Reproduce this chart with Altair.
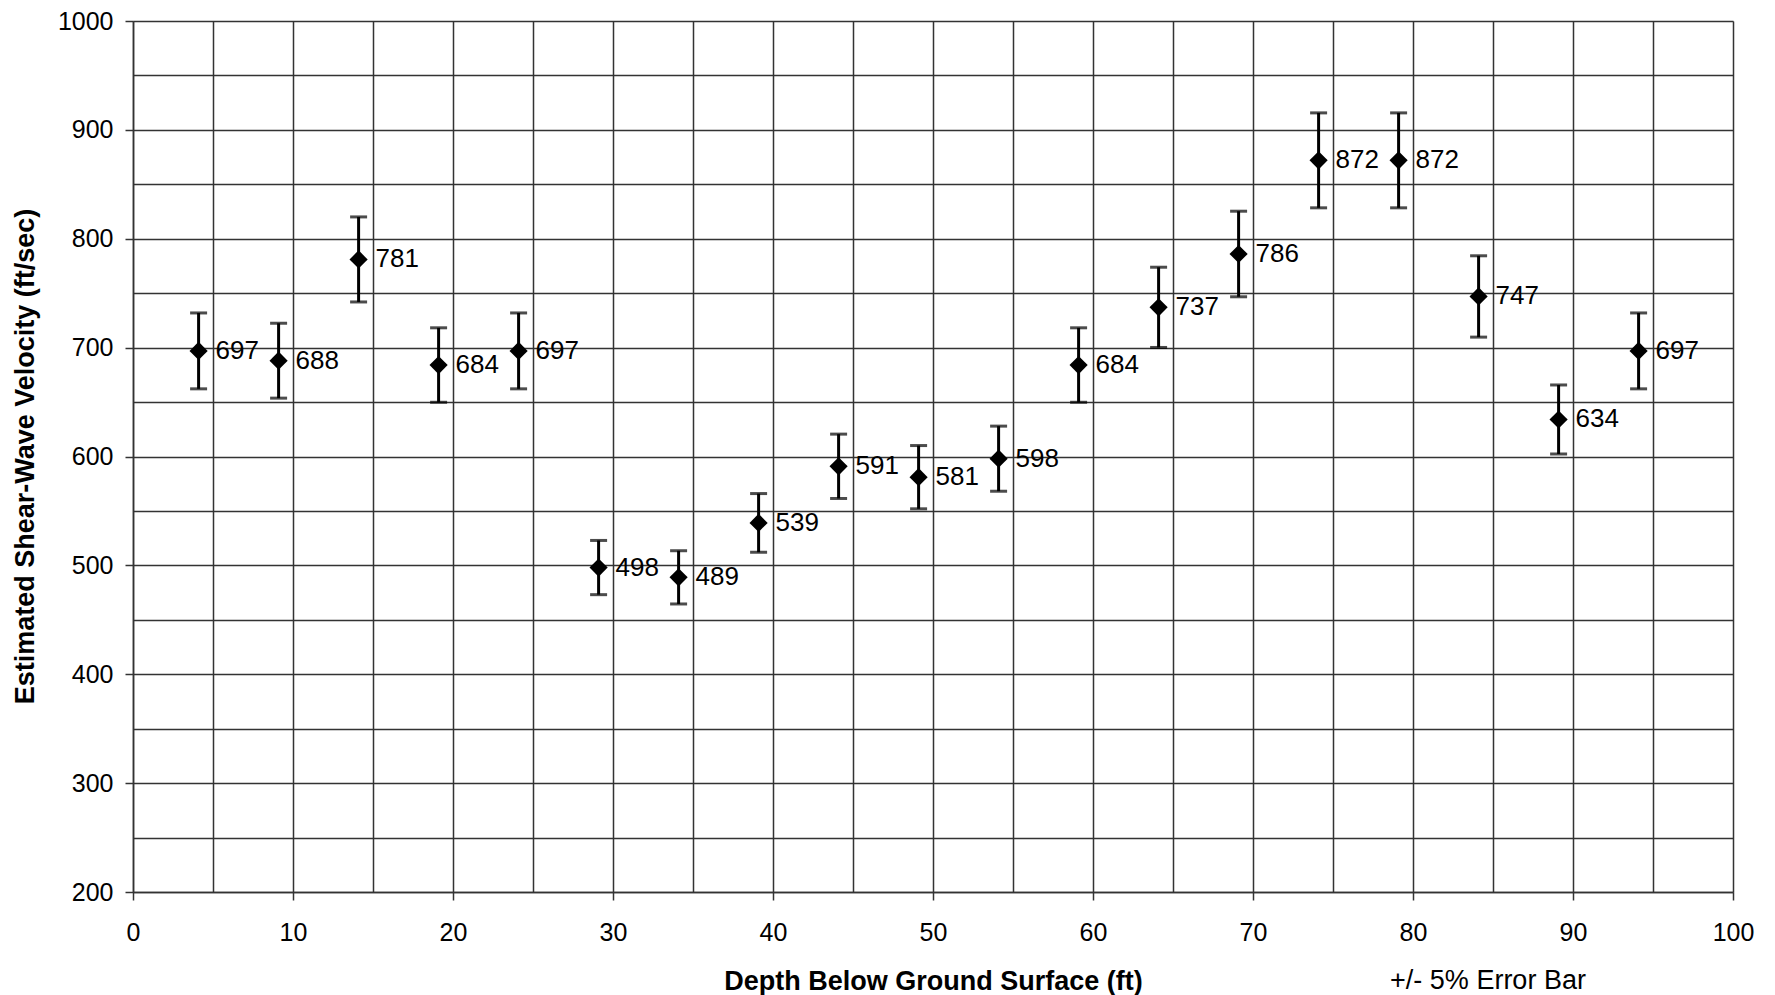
import altair as alt
import pandas as pd

depth_ft = [4.1, 9.1, 14.1, 19.1, 24.1, 29.1, 34.1, 39.1, 44.1, 49.1,
            54.1, 59.1, 64.1, 69.1, 74.1, 79.1, 84.1, 89.1, 94.1]
velocity = [697, 688, 781, 684, 697, 498, 489, 539, 591, 581,
            598, 684, 737, 786, 872, 872, 747, 634, 697]
error_pct = 5

df = pd.DataFrame({"depth": depth_ft, "vel": velocity})
df["lo"] = df["vel"] * (1 - error_pct / 100)
df["hi"] = df["vel"] * (1 + error_pct / 100)
df["label"] = df["vel"].astype(str)

FONT = "Liberation Sans"
GRID = "#333333"
GW = 1.5

xscale = alt.Scale(domain=[0, 100], nice=False, zero=False)
yscale = alt.Scale(domain=[200, 1000], nice=False, zero=False)

xaxis = alt.Axis(
    values=list(range(0, 101, 5)),
    labelExpr="datum.value % 10 === 0 ? datum.label : ''",
    tickColor={"condition": {"test": "datum.value % 10 === 0", "value": GRID}, "value": "transparent"},
    title="Depth Below Ground Surface (ft)",
    titleFont=FONT, titleFontSize=27, titleFontWeight="bold", titleColor="black",
    titleY=89, titleBaseline="middle",
    labelFont=FONT, labelFontSize=25, labelColor="black", labelPadding=20,
    tickSize=8, tickWidth=GW, grid=True, gridColor=GRID, gridWidth=GW, gridOpacity=1,
    domainColor=GRID, domainWidth=GW, labelFlush=False,
)
yaxis = alt.Axis(
    values=list(range(200, 1001, 50)),
    labelExpr="datum.value % 100 === 0 ? datum.label : ''",
    tickColor={"condition": {"test": "datum.value % 100 === 0", "value": GRID}, "value": "transparent"},
    format="d",
    title="Estimated Shear-Wave Velocity (ft/sec)",
    titleFont=FONT, titleFontSize=27, titleFontWeight="bold", titleColor="black",
    titleX=-108, titleY=435, titleAngle=270, titleAlign="center", titleBaseline="middle",
    labelFont=FONT, labelFontSize=25, labelColor="black", labelPadding=12,
    tickSize=8, tickWidth=GW, grid=True, gridColor=GRID, gridWidth=GW, gridOpacity=1,
    domainColor=GRID, domainWidth=GW, labelFlush=False,
)

base = alt.Chart(df)

stems = base.mark_rule(color="black", strokeWidth=3).encode(
    x=alt.X("depth:Q", scale=xscale, axis=xaxis),
    y=alt.Y("lo:Q", scale=yscale, axis=yaxis),
    y2="hi:Q",
)
caps_hi = base.mark_tick(color="black", orient="horizontal", size=17, thickness=3).encode(
    x=alt.X("depth:Q", scale=xscale), y=alt.Y("hi:Q", scale=yscale)
)
caps_lo = base.mark_tick(color="black", orient="horizontal", size=17, thickness=3).encode(
    x=alt.X("depth:Q", scale=xscale), y=alt.Y("lo:Q", scale=yscale)
)
pts = base.mark_point(shape="diamond", filled=True, color="black", size=330, opacity=1).encode(
    x=alt.X("depth:Q", scale=xscale), y=alt.Y("vel:Q", scale=yscale)
)
labels = base.mark_text(align="left", baseline="middle", dx=17, font=FONT, fontSize=26, color="black").encode(
    x=alt.X("depth:Q", scale=xscale), y=alt.Y("vel:Q", scale=yscale), text="label:N"
)
note = alt.Chart(pd.DataFrame({"t": ["+/- 5% Error Bar"]})).mark_text(
    align="center", baseline="middle", font=FONT, fontSize=27, color="black"
).encode(x=alt.value(1355), y=alt.value(960), text="t:N")

chart = alt.layer(stems, caps_hi, caps_lo, pts, labels, note).properties(
    width=1600, height=871,
    autosize=alt.AutoSizeParams(type="none"),
    padding={"left": 125, "top": 13, "right": 34, "bottom": 103},
).configure_view(stroke=None).configure(background="white")

chart.save("out.html", embed_options={"renderer": "svg", "actions": False})
